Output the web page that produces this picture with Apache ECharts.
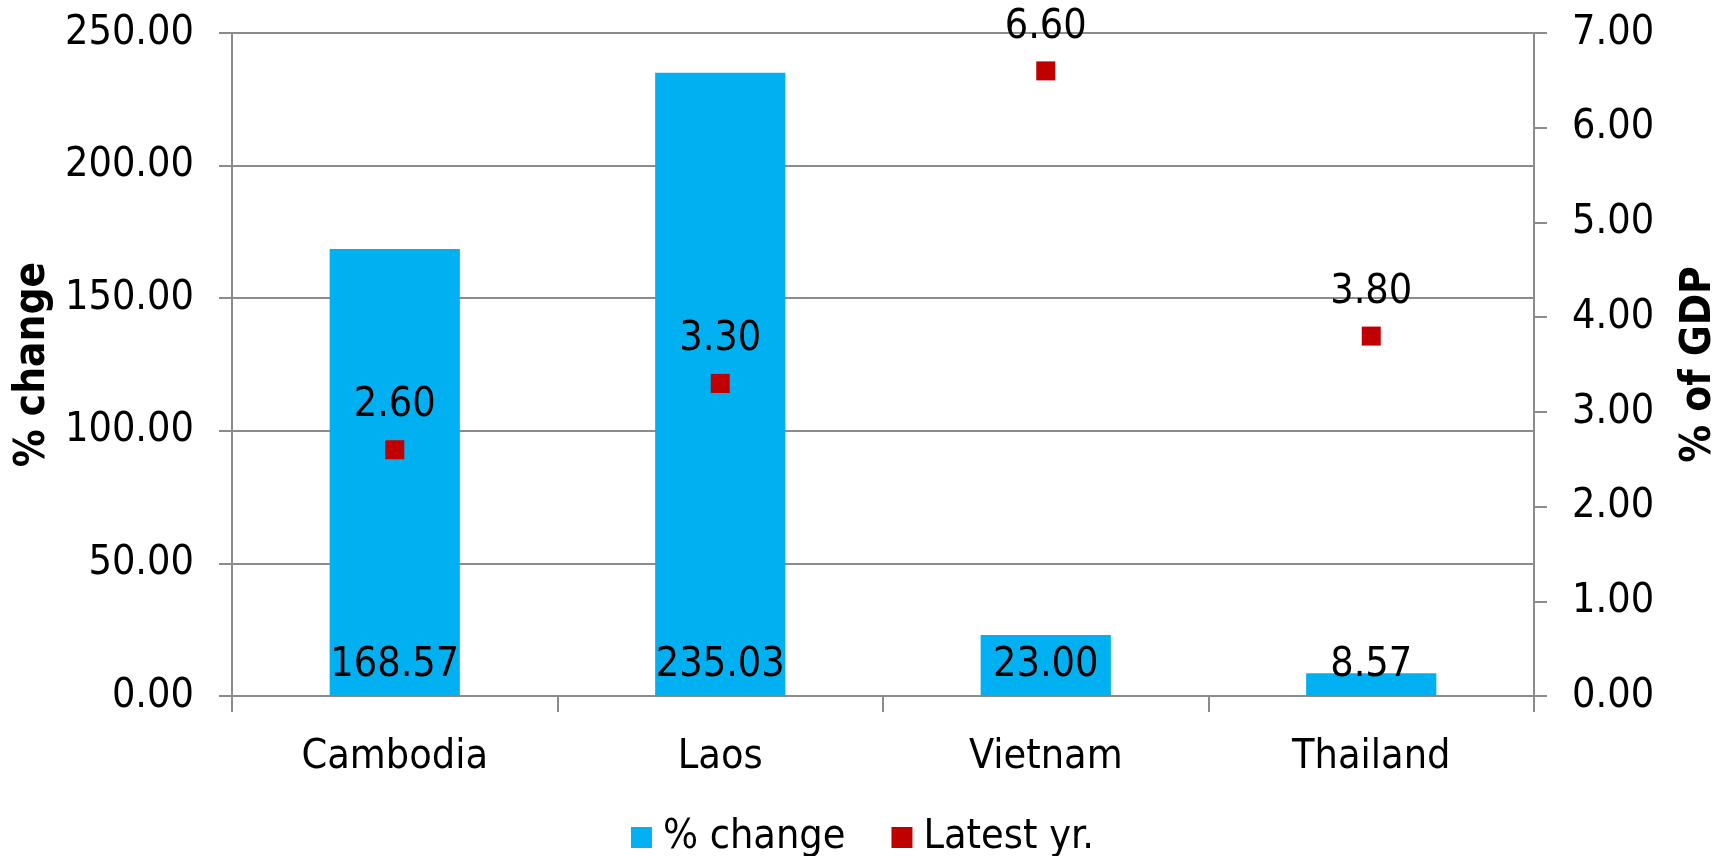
<!DOCTYPE html>
<html>
<head>
<meta charset="utf-8">
<script src="https://cdn.jsdelivr.net/npm/echarts@6/dist/echarts.min.js"></script>
<style>
  html, body { margin: 0; padding: 0; background: #fff; }
  #chart { width: 1725px; height: 856px; }
</style>
</head>
<body>
<div id="chart"></div>
<script>
// Countries on the category axis
const categories = ['Cambodia', 'Laos', 'Vietnam', 'Thailand'];
// Percentage change (left axis, bars)
const pctChange = [168.57, 235.03, 23.00, 8.57];
// Latest year, % of GDP (right axis, markers)
const latestYr = [2.60, 3.30, 6.60, 3.80];
// Axis ticks
const leftTicks = { min: 0, max: 250, interval: 50 };
const rightTicks = { min: 0, max: 7, interval: 1 };

const FONT = '"DejaVu Sans Condensed", "DejaVu Sans", sans-serif';
const GRAY = '#8c8c8c';
const FS = 41;

const chart = echarts.init(document.getElementById('chart'), null, { renderer: 'canvas' });

const titleStyle = { fontFamily: FONT, fontWeight: 'bold', fontSize: 42, color: '#000' };

chart.setOption({
  backgroundColor: '#ffffff',
  animation: false,
  textStyle: { fontFamily: FONT },
  grid: {
    left: 232, right: 191, top: 33, bottom: 160,
    containLabel: false,
    outerBoundsMode: 'none'
  },
  legend: {
    top: 812,
    left: 'center',
    itemWidth: 21,
    itemHeight: 21,
    itemGap: 46,
    textStyle: { fontFamily: FONT, fontSize: FS, color: '#000', padding: [0, 0, 0, 6] },
    data: [
      { name: '% change', icon: 'rect' },
      { name: 'Latest yr.', icon: 'rect' }
    ]
  },
  xAxis: {
    type: 'category',
    data: categories,
    axisLine: { lineStyle: { color: GRAY, width: 2 } },
    axisTick: { show: true, alignWithLabel: false, length: 16, lineStyle: { color: GRAY, width: 2 } },
    axisLabel: { fontFamily: FONT, fontSize: FS, color: '#000', margin: 41 },
    splitLine: { show: false }
  },
  yAxis: [
    {
      type: 'value',
      position: 'left',
      min: leftTicks.min, max: leftTicks.max, interval: leftTicks.interval,
      name: '% change',
      nameLocation: 'middle',
      nameRotate: 90,
      nameGap: 177,
      nameTextStyle: titleStyle,
      axisLine: { show: true, lineStyle: { color: GRAY, width: 2 } },
      axisTick: { show: true, length: 13, lineStyle: { color: GRAY, width: 2 } },
      axisLabel: {
        fontFamily: FONT, fontSize: FS, color: '#000', margin: 38,
        formatter: v => v.toFixed(2)
      },
      splitLine: { show: true, lineStyle: { color: GRAY, width: 2 } }
    },
    {
      type: 'value',
      position: 'right',
      min: rightTicks.min, max: rightTicks.max, interval: rightTicks.interval,
      name: '% of GDP',
      nameLocation: 'middle',
      nameRotate: 90,
      nameGap: 144,
      nameTextStyle: titleStyle,
      axisLine: { show: true, lineStyle: { color: GRAY, width: 2 } },
      axisTick: { show: true, length: 13, lineStyle: { color: GRAY, width: 2 } },
      axisLabel: {
        fontFamily: FONT, fontSize: FS, color: '#000', margin: 38,
        formatter: v => v.toFixed(2)
      },
      splitLine: { show: false }
    }
  ],
  series: [
    {
      name: '% change',
      type: 'bar',
      yAxisIndex: 0,
      data: pctChange,
      barWidth: '40%',
      itemStyle: { color: '#00B0F0' },
      label: {
        show: true,
        position: 'insideBottom',
        distance: 10,
        fontFamily: FONT, fontSize: FS, color: '#000',
        formatter: p => p.value.toFixed(2)
      }
    },
    {
      name: 'Latest yr.',
      type: 'scatter',
      yAxisIndex: 1,
      data: latestYr,
      symbol: 'rect',
      symbolSize: 19,
      itemStyle: { color: '#C00000', opacity: 1 },
      label: {
        show: true,
        position: 'top',
        distance: 14,
        fontFamily: FONT, fontSize: FS, color: '#000',
        formatter: p => p.value.toFixed(2)
      }
    }
  ]
});
</script>
</body>
</html>
